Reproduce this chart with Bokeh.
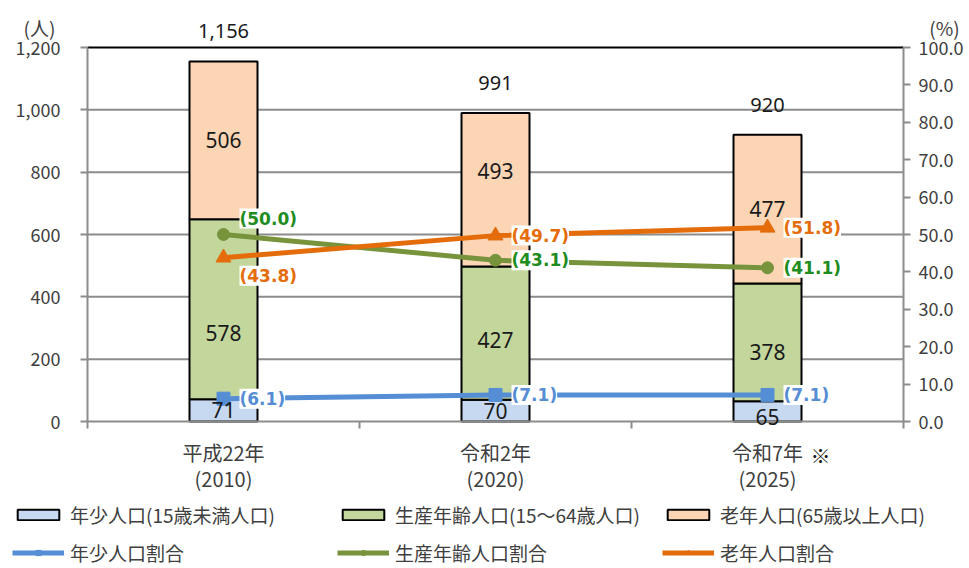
from bokeh.plotting import figure
from bokeh.models import (Range1d, LinearAxis, FixedTicker, NumeralTickFormatter, ColumnDataSource,
                          LabelSet, Label, Legend, LegendItem, CustomLabelingPolicy)
from bokeh.core.properties import value
from bokeh.embed import file_html
from bokeh.resources import INLINE

# ---------------- data ----------------
categories = ["平成22年\n(2010)", "令和2年\n(2020)", "令和7年\n(2025)"]
young = [71, 70, 65]
working = [578, 427, 378]
elderly = [506, 493, 477]
totals = [1156, 991, 920]
young_pct = [6.1, 7.1, 7.1]
working_pct = [50.0, 43.1, 41.1]
elderly_pct = [43.8, 49.7, 51.8]
bar_names = ["年少人口(15歳未満人口)", "生産年齢人口(15～64歳人口)", "老年人口(65歳以上人口)"]
pct_names = ["年少人口割合", "生産年齢人口割合", "老年人口割合"]
left_ticks = [0, 200, 400, 600, 800, 1000, 1200]
right_ticks = [0, 10, 20, 30, 40, 50, 60, 70, 80, 90, 100]
left_unit = "(人)"
right_unit = "(%)"
note_index = 2
note_mark = "※"

# ---------------- style / layout ----------------
BAR_COLORS = ["#C6D9F1", "#C3D69B", "#FCD5B5"]
LINE_COLORS = ["#558ED5", "#77933C", "#E46C0A"]
PCT_TEXT_COLORS = ["#558ED5", "#1E8C1E", "#E46C0A"]
MARKERS = ["square", "circle", "triangle"]
MARKER_SIZES = [13, 12, 15]
GRAY = "#8C8C8C"
TXT = "#404040"
JP = "Noto Sans CJK JP"

# label nudges in pixels (upwards positive), keyed by (series, category)
SEG_NUDGE = {(1, 0): -24, (1, 1): -7, (1, 2): -10, (2, 1): 19, (0, 2): -6}
PCT_NUDGE = {(1, 0): 16, (2, 0): -18}

W, H = 968, 567                     # canvas
FL, FR, FT, FB = 87, 903, 47, 421   # plot-area edges in pixels

n = len(categories)
xpos = [i + 0.5 for i in range(n)]            # category centres, 0..n axis
ymax = left_ticks[-1]
pmax = right_ticks[-1]
cw = (FR - FL) / n
pu = (FB - FT) / ymax
x_range = Range1d(-FL / cw, (W - FL) / cw)
y0, y1 = -(H - FB) / pu, ymax + FT / pu
k = pmax / ymax

src = ColumnDataSource(dict(
    x=xpos, young=young, working=working, elderly=elderly,
    young_pct=young_pct, working_pct=working_pct, elderly_pct=elderly_pct,
))

p = figure(x_range=x_range, y_range=Range1d(y0, y1), width=W, height=H,
           output_backend="svg", toolbar_location=None,
           x_axis_location=None, y_axis_location=None,
           min_border_left=0, min_border_right=0, min_border_top=0, min_border_bottom=0)
p.outline_line_color = None
p.xgrid.grid_line_color = None
p.ygrid.grid_line_color = None
p.extra_y_ranges = {"pct": Range1d(y0 * k, y1 * k)}

# gridlines and top border of the plot area
gl = left_ticks[1:-1]
p.segment(x0=[0] * len(gl), x1=[n] * len(gl), y0=gl, y1=gl, line_color=GRAY, line_width=2)
p.segment(x0=[0], x1=[n], y0=[ymax], y1=[ymax], line_color="black", line_width=2)

# axes (fixed inside the canvas)
def style(ax, standoff, tick=7):
    ax.axis_line_color = GRAY
    ax.axis_line_width = 2
    ax.major_tick_line_color = GRAY
    ax.major_tick_line_width = 2
    ax.major_tick_out = tick
    ax.major_tick_in = 0
    ax.minor_tick_line_color = None
    ax.major_label_standoff = standoff
    ax.major_label_text_font = JP
    ax.major_label_text_font_size = "18px"
    ax.major_label_text_color = TXT

lax = LinearAxis(ticker=FixedTicker(ticks=left_ticks), formatter=NumeralTickFormatter(format="0,0"),
                 fixed_location=0, bounds=(0, ymax))
style(lax, 20)
p.add_layout(lax, "left")

rax = LinearAxis(y_range_name="pct", ticker=FixedTicker(ticks=right_ticks),
                 formatter=NumeralTickFormatter(format="0.0"), fixed_location=n, bounds=(0, pmax))
style(rax, 8)
p.add_layout(rax, "right")

# category boundary tick marks (no labels)
tax = LinearAxis(ticker=FixedTicker(ticks=list(range(n + 1))), fixed_location=0, bounds=(0, n),
                 major_label_policy=CustomLabelingPolicy(code="return new Set()"))
style(tax, 0)
p.add_layout(tax, "below")

labels = {x: c for x, c in zip(xpos, categories)}
cax = LinearAxis(ticker=FixedTicker(ticks=xpos), major_label_overrides=labels,
                 fixed_location=0, bounds=(0, n))
style(cax, 16, tick=0)
cax.axis_line_color = None
cax.major_tick_line_color = None
cax.major_label_text_font_size = "20px"
cax.major_label_text_line_height = 0.9
p.add_layout(cax, "below")

# bars
bars = p.vbar_stack(["young", "working", "elderly"], x="x", width=0.25, source=src,
                    fill_color=BAR_COLORS, line_color="black", line_width=2)

# lines
lines, marks = [], []
for key, col, mk, ms in zip(["young_pct", "working_pct", "elderly_pct"], LINE_COLORS, MARKERS, MARKER_SIZES):
    lines.append(p.line("x", key, source=src, y_range_name="pct", line_color=col, line_width=5))
    marks.append(p.scatter("x", key, source=src, y_range_name="pct", marker=mk, size=ms,
                           fill_color=col, line_color=col))

# segment labels
seg_x, seg_y, seg_t, seg_dy = [], [], [], []
for i in range(n):
    base = 0
    for s, arr in enumerate((young, working, elderly)):
        seg_x.append(xpos[i])
        seg_y.append(base + arr[i] / 2)
        seg_t.append(str(arr[i]))
        seg_dy.append(SEG_NUDGE.get((s, i), 0))
        base += arr[i]
p.add_layout(LabelSet(x="x", y="y", text="t", y_offset="dy",
                      source=ColumnDataSource(dict(x=seg_x, y=seg_y, t=seg_t, dy=seg_dy)),
                      text_align="center", text_baseline="middle", text_font=value("Noto Sans"),
                      text_font_size="21px", text_color="#1a1a1a"))

# totals
p.add_layout(LabelSet(x="x", y="y", text="t",
                      source=ColumnDataSource(dict(x=xpos, y=totals, t=[f"{t:,}" for t in totals])),
                      y_offset=30, text_align="center", text_baseline="middle",
                      text_font=value("Noto Sans"), text_font_size="20px", text_color="#1a1a1a"))

# percentage labels
for s, (vals, col) in enumerate(zip((young_pct, working_pct, elderly_pct), PCT_TEXT_COLORS)):
    dy = [PCT_NUDGE.get((s, i), 0) for i in range(n)]
    p.add_layout(LabelSet(x="x", y="y", text="t", y_range_name="pct", y_offset="dy",
                          source=ColumnDataSource(dict(x=xpos, y=vals, dy=dy,
                                                       t=[f"({v:.1f})" for v in vals])),
                          x_offset=16, text_align="left", text_baseline="middle",
                          text_font=value("DejaVu Sans"), text_font_style="bold",
                          text_font_size="17px", text_color=col,
                          background_fill_color="white"))

# unit labels and note mark
p.add_layout(Label(x=0, y=ymax, x_offset=-48, y_offset=20, text=left_unit,
                   text_align="center", text_baseline="middle", text_font=JP,
                   text_font_size="19px", text_color=TXT))
p.add_layout(Label(x=n, y=ymax, x_offset=41, y_offset=20, text=right_unit,
                   text_align="center", text_baseline="middle", text_font=JP,
                   text_font_size="19px", text_color=TXT))
p.add_layout(Label(x=xpos[note_index], y=0, x_offset=53, y_offset=-34, text=note_mark,
                   text_align="center", text_baseline="middle", text_font=JP,
                   text_font_size="20px", text_color="#1a1a1a"))

# legend
items = [LegendItem(label=nm, renderers=[r]) for nm, r in zip(bar_names, bars)]
items += [LegendItem(label=nm, renderers=[l, m]) for nm, l, m in zip(pct_names, lines, marks)]
legend = Legend(items=items, location=(12, 1), orientation="horizontal", ncols=3,
                glyph_width=52, glyph_height=13, label_height=20, label_standoff=6,
                spacing=11, label_width=256, padding=0, margin=0,
                border_line_color=None, background_fill_alpha=0,
                label_text_font=JP, label_text_font_size="19px", label_text_color=TXT)
p.add_layout(legend)

open("out.html", "w").write(file_html(p, INLINE))
